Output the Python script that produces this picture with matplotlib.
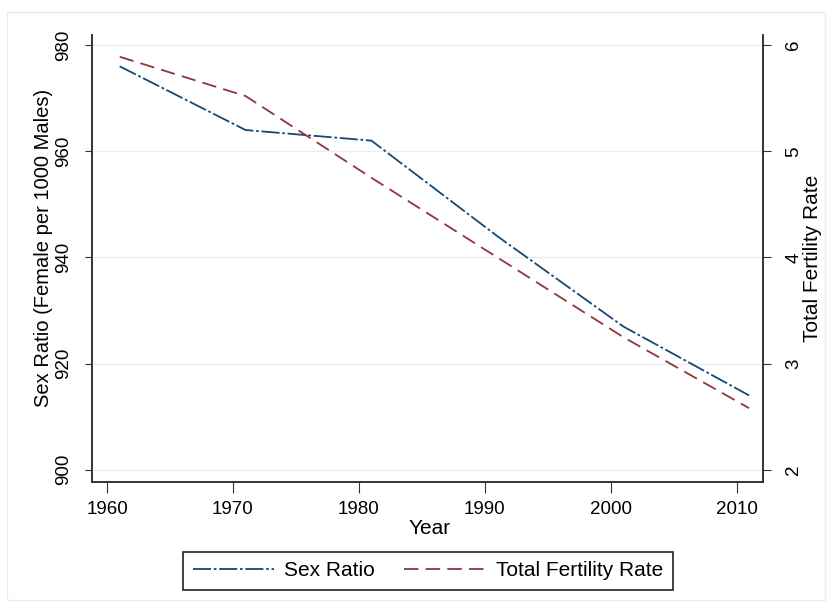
import matplotlib
matplotlib.use("Agg")
import matplotlib.pyplot as plt
from matplotlib.patches import Rectangle

# Census years and values
years = [1961, 1971, 1981, 1991, 2001, 2011]
sex_ratio = [976, 964, 962, 944, 927, 914]
tfr = [5.89, 5.52, 4.75, 4.0, 3.25, 2.58]

x_ticks = [1960, 1970, 1980, 1990, 2000, 2010]
left_ticks = [900, 920, 940, 960, 980]
right_ticks = [2, 3, 4, 5, 6]

navy = "#1a476f"
maroon = "#90353b"

plt.rcParams["font.family"] = ["Liberation Sans", "DejaVu Sans"]

fig = plt.figure(figsize=(8.32, 6.07), dpi=100)
fig.patches.append(Rectangle((7 / 832, 7 / 607), 818 / 832, 588 / 607,
                             transform=fig.transFigure, fill=False,
                             edgecolor="#ebebeb", linewidth=1))

ax = fig.add_axes([92 / 832, 1 - 482 / 607, 671 / 832, 447 / 607])
ax2 = ax.twinx()

ylo, yhi = 897.7, 981.9
ax.set_ylim(ylo, yhi)
ax2.set_ylim(2 + (ylo - 900) / 20, 2 + (yhi - 900) / 20)
ax.set_xlim(1958.8, 2012.1)

ax.grid(axis="y", color="#eeeeee", linewidth=1)
ax.set_axisbelow(True)

l1, = ax.plot(years, sex_ratio, color=navy, linewidth=1.3,
              dashes=(10, 1.5, 1.5, 1.5), label="Sex Ratio")
l2, = ax2.plot(years, tfr, color=maroon, linewidth=1.3,
               dashes=(8, 4), label="Total Fertility Rate")

for a in (ax, ax2):
    a.spines["top"].set_visible(False)
    for s in a.spines.values():
        s.set_color("#333333")
        s.set_linewidth(1.2)

ax.set_xticks(x_ticks)
ax.set_yticks(left_ticks)
ax2.set_yticks(right_ticks)
ax.tick_params(axis="x", length=8, pad=6, labelsize=13.5, color="#333333")
ax.tick_params(axis="y", length=5, pad=9, labelsize=13.5, color="#333333")
ax2.tick_params(axis="y", length=6, pad=10, labelsize=13.5, color="#333333")
for lab in ax.get_yticklabels():
    lab.set_rotation(90)
    lab.set_va("center")
for lab in ax2.get_yticklabels():
    lab.set_rotation(90)
    lab.set_va("center")

ax.set_xlabel("Year", fontsize=15)
ax.xaxis.set_label_coords((430 - 92) / 671, -(519 - 482) / 447)
ax.set_ylabel("Sex Ratio (Female per 1000 Males)", fontsize=14.5)
ax.yaxis.set_label_coords((53 - 92) / 671, 0.523)
ax2.set_ylabel("Total Fertility Rate", fontsize=15)
ax2.yaxis.set_label_coords((803 - 92) / 671, 0.5)

leg = fig.legend([l1, l2], ["Sex Ratio", "Total Fertility Rate"], ncol=2,
                 loc="center", bbox_to_anchor=(428 / 832, 1 - 571 / 607),
                 fontsize=15, handlelength=3.9, handletextpad=0.5,
                 columnspacing=1.4, fancybox=False, framealpha=1,
                 edgecolor="#222222", borderpad=0.45)
leg.get_frame().set_linewidth(1.2)

fig.savefig("out.png", dpi=100)
